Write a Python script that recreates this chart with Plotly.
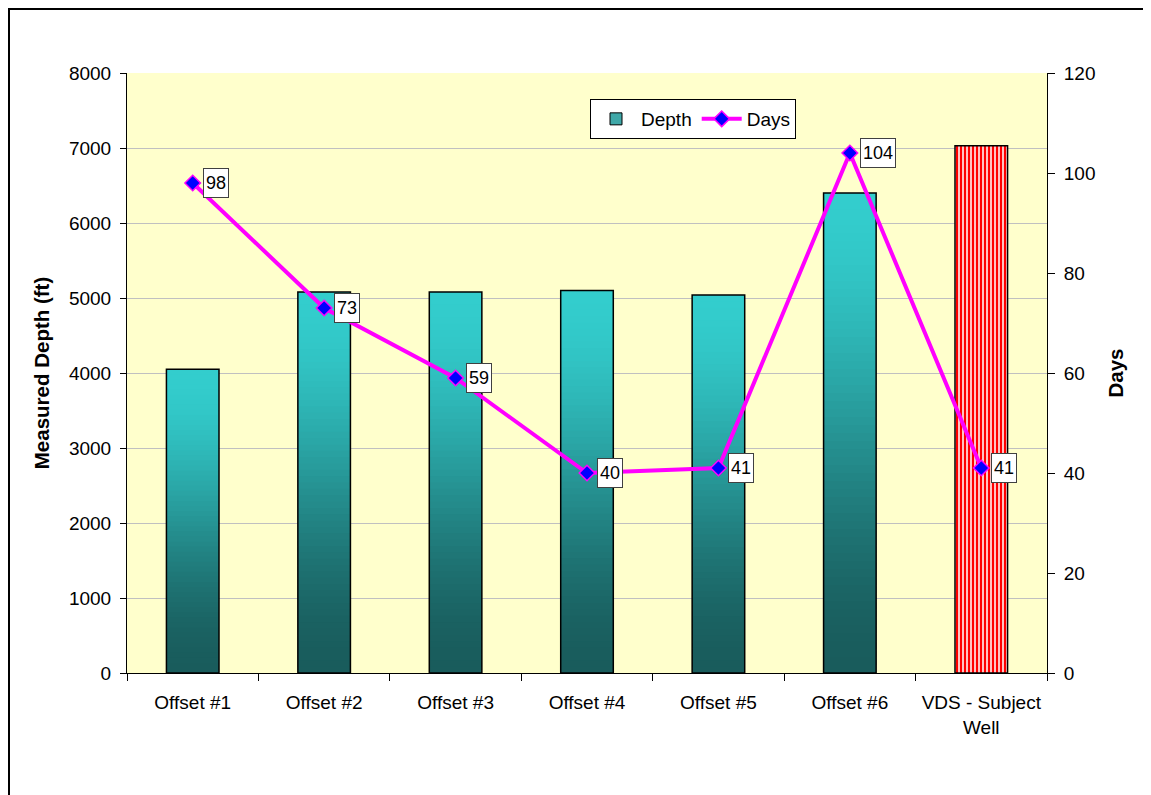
import plotly.graph_objects as go

# ---- data ----
categories = ["Offset #1", "Offset #2", "Offset #3", "Offset #4", "Offset #5",
              "Offset #6", "VDS - Subject<br>Well"]
depth_ft = [4050, 5080, 5080, 5100, 5040, 6400, 7030]
days = [98, 73, 59, 40, 41, 104, 41]
depth_ticks = list(range(0, 8001, 1000))
days_ticks = list(range(0, 121, 20))

FONT = "Liberation Sans, Arial, sans-serif"

# page has an 8px body margin; work in figure coordinates
OFF = 8
W, H = 1151 - OFF, 795 - OFF
L, R, T, B = 127 - OFF, 1047 - OFF, 73 - OFF, 673 - OFF
PW, PH = R - L, B - T

fig = go.Figure()

# legend-only swatch for Depth
fig.add_trace(go.Bar(
    x=[categories[0]], y=[0], width=0.4, name="Depth",
    marker=dict(color="#3FA8A8", line=dict(color="black", width=1)),
    hoverinfo="skip"))

# gradient bars for offsets: overlapping stacked segments (cyan top -> dark teal bottom)
N = 60
top_c = (51, 205, 205)
bot_c = (25, 92, 92)
off_x = categories[:6]
off_d = depth_ft[:6]
for k in range(N):
    t = 1 - (k + 0.5) / N          # 0 at top, 1 at bottom
    s = t * t * (3 - 2 * t)
    col = "rgb(%d,%d,%d)" % tuple(round(a + (b - a) * s) for a, b in zip(top_c, bot_c))
    span = min(1.8, N - k)
    fig.add_trace(go.Bar(
        x=off_x, y=[d * span / N for d in off_d], base=[d * k / N for d in off_d],
        width=0.4, marker=dict(color=col, line=dict(width=0)),
        showlegend=False, hoverinfo="skip"))

# outlines of offset bars
fig.add_trace(go.Bar(
    x=off_x, y=off_d, width=0.4,
    marker=dict(color="rgba(0,0,0,0)", line=dict(color="black", width=1.5)),
    showlegend=False))

# subject well bar: red vertical stripes
fig.add_trace(go.Bar(
    x=[categories[6]], y=[depth_ft[6]], width=0.4,
    marker=dict(color="white",
                pattern=dict(shape="|", fgcolor="#FF0000", bgcolor="white",
                             fgopacity=1, size=4, solidity=0.62,
                             fillmode="overlay"),
                line=dict(color="black", width=1.5)),
    showlegend=False))

# Days line
fig.add_trace(go.Scatter(
    x=categories, y=days, yaxis="y2", mode="lines+markers", name="Days",
    line=dict(color="#FF00FF", width=4),
    marker=dict(symbol="diamond", size=12, color="#0000FF",
                line=dict(color="#FF00FF", width=1.5))))

annotations = []
for c, d in zip(categories, days):
    annotations.append(dict(
        x=c, y=d, xref="x", yref="y2", text=str(d), showarrow=False,
        xanchor="left", yanchor="middle", xshift=10, height=24,
        bgcolor="white", bordercolor="#404040", borderwidth=1, borderpad=2,
        font=dict(family=FONT, size=18, color="black")))

fig.update_layout(
    width=W, height=H,
    margin=dict(l=L, r=W - R, t=T, b=H - B, autoexpand=False),
    paper_bgcolor="white", plot_bgcolor="#FFFFCC",
    barmode="overlay",
    font=dict(family=FONT, size=19, color="black"),
    showlegend=True,
    legend=dict(orientation="h", x=(590 - OFF - L) / PW, y=(B - (99 - OFF)) / PH,
                xanchor="left", yanchor="top", bgcolor="white",
                bordercolor="black", borderwidth=1, itemwidth=40,
                font=dict(family=FONT, size=19, color="black"),
                traceorder="normal"),
    xaxis=dict(categoryorder="array", categoryarray=categories,
               showline=True, linecolor="black", linewidth=1,
               ticks="outside", tickson="boundaries", ticklen=7,
               tickcolor="black", showgrid=False, zeroline=False,
               ticklabelstandoff=12,
               tickfont=dict(family=FONT, size=19, color="black"),
               fixedrange=True),
    yaxis=dict(range=[0, 8000], tickvals=depth_ticks,
               showline=True, linecolor="black", linewidth=1,
               ticks="outside", ticklen=6, tickcolor="black",
               showgrid=True, gridcolor="#C0C0C0", gridwidth=1,
               zeroline=False, ticklabelstandoff=5,
               tickfont=dict(family=FONT, size=19, color="black"),
               title=dict(text="<b>Measured Depth (ft)</b>", standoff=13,
                          font=dict(family=FONT, size=20.5, color="black"))),
    yaxis2=dict(range=[0, 120], tickvals=days_ticks, overlaying="y",
                side="right", showline=True, linecolor="black", linewidth=1,
                ticks="outside", ticklen=7, tickcolor="black",
                showgrid=False, zeroline=False, ticklabelstandoff=5,
                tickfont=dict(family=FONT, size=19, color="black"),
                title=dict(text="<b>Days</b>", standoff=14,
                           font=dict(family=FONT, size=20.5, color="black"))),
    annotations=annotations,
    shapes=[dict(type="rect", xref="paper", yref="paper",
                 x0=(1 - L) / PW, x1=(W + 20 - L) / PW,
                 y0=(B - (H + 20)) / PH, y1=(B - 1) / PH,
                 line=dict(color="black", width=2), fillcolor="rgba(0,0,0,0)")],
)

fig.write_html("out.html")
